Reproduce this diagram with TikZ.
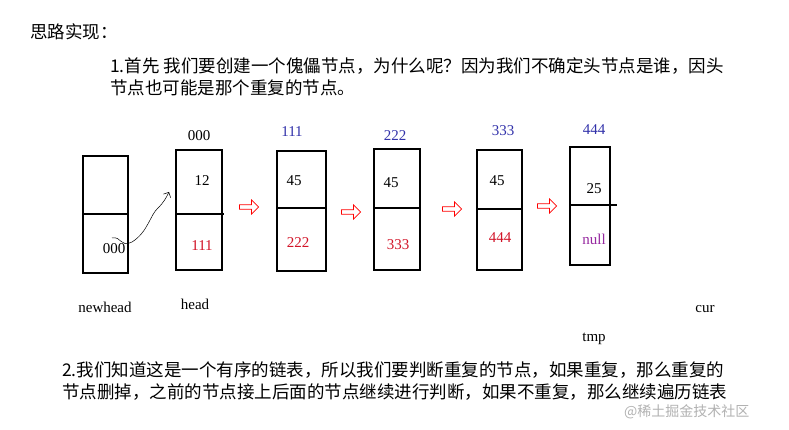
\documentclass[tikz,border=0pt]{standalone}
\usepackage{fontspec}
\setmainfont{Liberation Serif}
\newfontfamily\cjk{Noto Sans CJK SC}
\usetikzlibrary{shapes.arrows,arrows.meta}
\definecolor{nblue}{RGB}{50,50,170}
\definecolor{nred}{RGB}{210,20,40}
\definecolor{npurple}{RGB}{150,40,160}
\tikzset{
  cell/.style={draw=black,line width=2pt},
  txt/.style={font=\fontsize{15}{17}\selectfont,inner sep=0pt},
  ctxt/.style={font=\cjk\fontsize{17.5}{20}\selectfont,inner sep=0pt,anchor=west},
  harrow/.style={single arrow,draw=red,fill=white,line width=0.7pt,minimum height=19pt,minimum width=14pt,single arrow head extend=3pt,inner sep=1pt}
}
\begin{document}
\begin{tikzpicture}[x=1pt,y=-1pt]
\useasboundingbox (0,0) rectangle (789,430);
\fill[white] (0,0) rectangle (789,430);
% boxes
\draw[cell] (83,156) rectangle (128,273); \draw[cell] (83,214) -- (128,214);
\draw[cell] (176,150) rectangle (222,270); \draw[cell] (176,214) -- (224,214);
\draw[cell] (277,151) rectangle (326,271); \draw[cell] (277,208) -- (326,208);
\draw[cell] (374,149) rectangle (420,270); \draw[cell] (374,208) -- (420,208);
\draw[cell] (477,150) rectangle (522,270); \draw[cell] (477,209) -- (522,209);
\draw[cell] (570,147) rectangle (610,265); \draw[cell] (570,205) -- (617,205);
% top labels
\node[txt] (l0) at (199,136) {000};
\node[txt,nblue] (l1) at (292,132) {111};
\node[txt,nblue] (l2) at (395,136) {222};
\node[txt,nblue] (l3) at (503,131) {333};
\node[txt,nblue] (l4) at (594,130) {444};
% values
\node[txt] (v0) at (202,181) {12};
\node[txt] (v1) at (294,181) {45};
\node[txt] (v2) at (391,183) {45};
\node[txt] (v3) at (497,181) {45};
\node[txt] (v4) at (594,189) {25};
\node[txt] (n0) at (114,249) {000};
\node[txt,nred] (n1) at (202,246) {111};
\node[txt,nred] (n2) at (298,243) {222};
\node[txt,nred] (n3) at (398,245) {333};
\node[txt,nred] (n4) at (500,238) {444};
\node[txt,npurple] (n5) at (594,239) {null};
% hollow arrows
\node[harrow] (a1) at (248,207) {};
\node[harrow] (a2) at (350,212) {};
\node[harrow] (a3) at (451,209) {};
\node[harrow] (a4) at (546,206) {};
% pointer
\coordinate (ps) at (112,238);
\coordinate (pe) at (169,192);
\draw[line width=0.5pt,-{Straight Barb[length=4pt]}] (ps) .. controls (122,236) and (120,248) .. (132,242) .. controls (148,232) and (150,215) .. (158,208) .. controls (164,202) and (166,198) .. (pe);
% names
\node[txt] (nm0) at (105,307) {newhead};
\node[txt] (nm1) at (195,304) {head};
\node[txt] (nm2) at (705,309) {cur};
\node[txt] (nm3) at (594,339) {tmp};
% texts
\node[ctxt] (t0) at (30,32) {思路实现：};
\node[ctxt] (t1) at (110,66) {1.首先 我们要创建一个傀儡节点，为什么呢？因为我们不确定头节点是谁，因头};
\node[ctxt] (t2) at (110,88) {节点也可能是那个重复的节点。};
\node[ctxt] (t3) at (62,370) {2.我们知道这是一个有序的链表，所以我们要判断重复的节点，如果重复，那么重复的};
\node[ctxt] (t4) at (62,392) {节点删掉，之前的节点接上后面的节点继续进行判断，如果不重复，那么继续遍历链表};
\node[ctxt,font=\cjk\fontsize{14}{16}\selectfont,gray!60] (wm) at (624,412) {@稀土掘金技术社区};
\end{tikzpicture}
\end{document}
